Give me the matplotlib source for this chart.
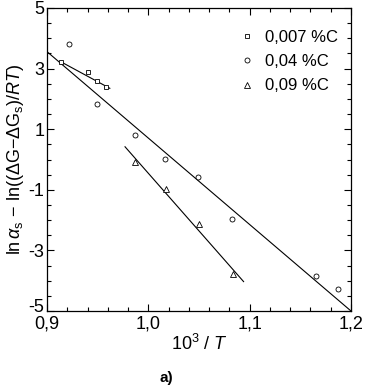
import matplotlib
matplotlib.use("Agg")
import matplotlib.pyplot as plt
import matplotlib.transforms as mtransforms
import numpy as np
from matplotlib.ticker import MultipleLocator, FuncFormatter

plt.rcParams['font.family'] = ['Liberation Sans', 'DejaVu Sans']
plt.rcParams['mathtext.fontset'] = 'custom'
plt.rcParams['mathtext.rm'] = 'Liberation Sans'
plt.rcParams['mathtext.it'] = 'Liberation Sans:italic'

# data
sq_x = [0.914, 0.940, 0.949, 0.958]
sq_y = [3.22, 2.90, 2.58, 2.40]
ci_x = [0.922, 0.949, 0.987, 1.016, 1.049, 1.083, 1.165, 1.187]
ci_y = [3.80, 1.83, 0.80, 0.02, -0.57, -1.97, -3.83, -4.27]
tr_x = [0.987, 1.017, 1.050, 1.084]
tr_y = [-0.07, -0.98, -2.13, -3.78]
# fitted lines (endpoints)
sq_line_x = [0.914, 0.962]
sq_line_y = [3.22, 2.35]
ci_line_x = [0.90, 1.20]
ci_line_y = [3.56, -5.0]
tr_line_x = [0.977, 1.094]
tr_line_y = [0.42, -4.03]
labels = ['0,007 %C', '0,04 %C', '0,09 %C']
yticks = [-5, -3, -1, 1, 3, 5]

fig = plt.figure(figsize=(3.65, 3.89), dpi=100)
ax = fig.add_axes([47/365, 1-311/389, (351-47)/365, (311-8)/389])

mk = dict(linestyle='none', mfc='white', mec='black', mew=0.6)
h1, = ax.plot(sq_x, sq_y, marker='s', ms=3.3, label=labels[0], **mk)
h2, = ax.plot(ci_x, ci_y, marker='o', ms=3.6, label=labels[1], **mk)
h3, = ax.plot(tr_x, tr_y, marker='^', ms=4.2, label=labels[2], **mk)
ax.plot(sq_line_x, sq_line_y, color='black', lw=0.8, zorder=1)
ax.plot(ci_line_x, ci_line_y, color='black', lw=0.8, zorder=1)
ax.plot(tr_line_x, tr_line_y, color='black', lw=0.8, zorder=1)

ax.set_xlim(0.9, 1.2)
ax.set_ylim(-5, 5)
ax.xaxis.set_major_locator(MultipleLocator(0.1))
ax.xaxis.set_minor_locator(MultipleLocator(0.02))
ax.yaxis.set_minor_locator(MultipleLocator(0.5))
ax.set_yticks(yticks)
ax.xaxis.set_major_formatter(FuncFormatter(lambda v, p: f"{v:.1f}".replace('.', ',')))
ax.yaxis.set_major_formatter(FuncFormatter(lambda v, p: f"{int(round(v))}"))
ax.tick_params(which='both', direction='in', top=True, right=True, labelsize=13, width=0.8)
ax.tick_params(which='major', length=5)
ax.tick_params(axis='x', which='major', pad=3)
ax.tick_params(axis='y', which='major', pad=2)
ax.tick_params(which='minor', length=3)
for s in ax.spines.values():
    s.set_linewidth(0.9)

# nudge the bottom y tick label up a little so it clears "0,9"
fig.canvas.draw()
lab0 = ax.yaxis.get_major_ticks()[0].label1
lab0.set_transform(lab0.get_transform() + mtransforms.ScaledTranslation(0, 5/100, fig.dpi_scale_trans))

ax.set_xlabel(r'10$^{3}$ / $\mathit{T}$', fontsize=13, labelpad=1)
ax.set_ylabel(r'ln$\,\alpha_\mathrm{s}$ $-$ ln(($\Delta$G$-\Delta$G$_\mathrm{s}$)/$\mathit{RT}$)', fontsize=13, labelpad=2)

ax.legend(handles=[h1, h2, h3], loc='upper right', bbox_to_anchor=(0.99, 0.96), frameon=False,
          fontsize=12, handletextpad=0.5, labelspacing=0.55, handlelength=1.2,
          borderaxespad=0.2)

fig.text(0.455, 1-378/389, 'a)', fontsize=11, fontweight='bold', ha='center', va='center')

fig.savefig('out.png', dpi=100)
